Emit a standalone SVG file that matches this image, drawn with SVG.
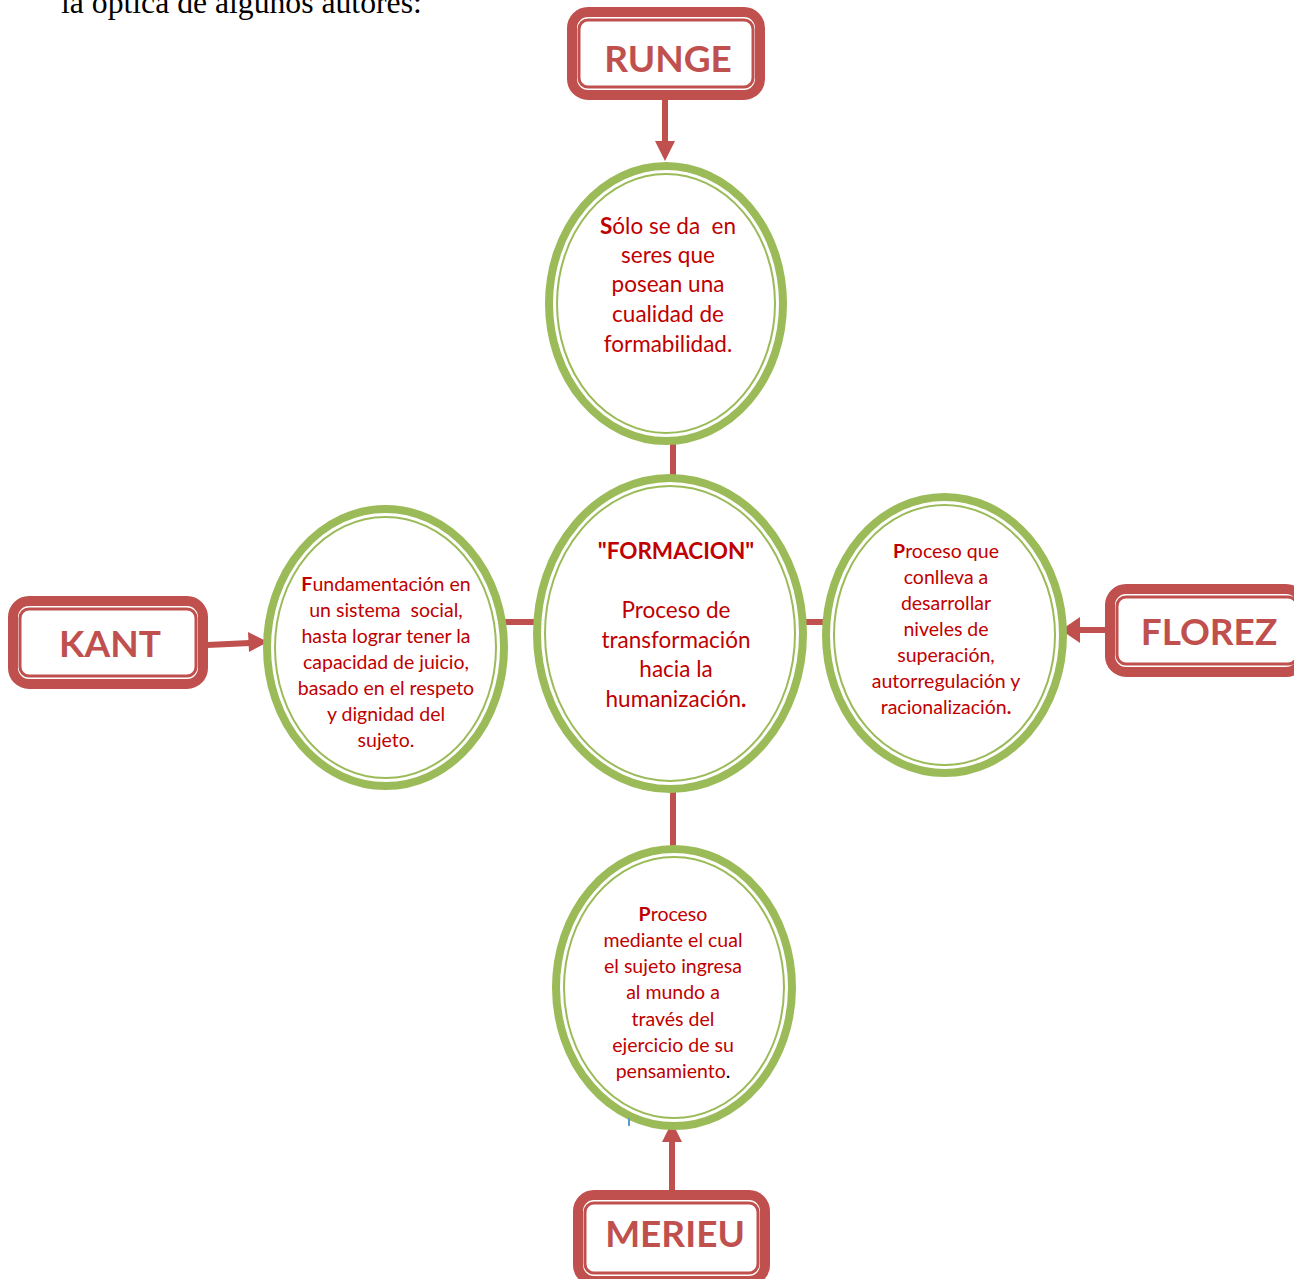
<svg xmlns="http://www.w3.org/2000/svg" width="1294" height="1279" viewBox="0 0 1294 1279">
<defs>
<style>
.box-o{fill:#fff;stroke:#C0504D;stroke-width:10}
.box-i{fill:none;stroke:#C0504D;stroke-width:3}
.ell-o{fill:#fff;stroke:#9BBB59;stroke-width:8}
.ell-i{fill:none;stroke:#9BBB59;stroke-width:2}
.lbl{font-family:Lato,"Liberation Sans",sans-serif;font-weight:bold;font-size:37px;fill:#C0504D;text-anchor:middle}
.big{font-family:Lato,"Liberation Sans",sans-serif;font-size:22.5px;fill:#C00000;text-anchor:middle;white-space:pre}
.sm{font-family:Lato,"Liberation Sans",sans-serif;font-size:19.5px;fill:#C00000;text-anchor:middle;white-space:pre}
.conn{stroke:#C0504D;stroke-width:6;fill:none}
.arr{fill:#C0504D}
.b{font-weight:bold}
</style>
</defs>
<rect width="1294" height="1279" fill="#fff"/>
<text x="61" y="13" font-family="'Liberation Serif',serif" font-size="31.7" fill="#000">la óptica de algunos autores:</text>

<g id="connectors">
<line class="conn" x1="673" y1="440" x2="673" y2="478"/>
<line class="conn" x1="673" y1="788" x2="673" y2="850"/>
<line class="conn" x1="503" y1="622" x2="538" y2="622"/>
<line class="conn" x1="802" y1="622" x2="827" y2="622"/>
<line class="conn" x1="665" y1="100" x2="665" y2="142"/>
<polygon class="arr" points="655,141 675,141 665,161"/>
<line class="conn" x1="207" y1="645" x2="250" y2="643"/>
<polygon class="arr" points="248,632 249,652 268,642"/>
<line class="conn" x1="1112" y1="630" x2="1078" y2="630"/>
<polygon class="arr" points="1080,617 1080,643 1061,630"/>
<line class="conn" x1="672" y1="1192" x2="672" y2="1140"/>
<polygon class="arr" points="662,1142 682,1142 672,1122"/>
</g>

<g id="runge">
<rect class="box-o" x="572" y="12" width="188" height="83" rx="16"/>
<rect class="box-i" x="579" y="20" width="174" height="67" rx="9"/>
<text class="lbl" x="668" y="72">RUNGE</text>
</g>
<g id="kant">
<rect class="box-o" x="13" y="601" width="190" height="83" rx="16"/>
<rect class="box-i" x="20" y="609" width="176" height="67" rx="9"/>
<text class="lbl" x="110" y="657">KANT</text>
</g>
<g id="florez">
<rect class="box-o" x="1110" y="589" width="192" height="83" rx="16"/>
<rect class="box-i" x="1117" y="597" width="180" height="67" rx="9"/>
<text class="lbl" x="1209" y="645">FLOREZ</text>
</g>
<g id="merieu">
<rect class="box-o" x="578" y="1195" width="187" height="86" rx="16"/>
<rect class="box-i" x="585" y="1203" width="173" height="70" rx="9"/>
<text class="lbl" x="675" y="1247">MERIEU</text>
</g>

<g id="runge-def">
<ellipse class="ell-o" cx="666" cy="303.5" rx="117" ry="137.5"/>
<ellipse class="ell-i" cx="666" cy="303.5" rx="109" ry="129.5"/>
<text class="big" x="668" y="234"><tspan class="b">S</tspan>ólo se da  en</text>
<text class="big" x="668" y="263">seres que</text>
<text class="big" x="668" y="292">posean una</text>
<text class="big" x="668" y="322">cualidad de</text>
<text class="big" x="668" y="352">formabilidad.</text>
</g>

<g id="formacion">
<ellipse class="ell-o" cx="670" cy="633.5" rx="133" ry="155.5"/>
<ellipse class="ell-i" cx="670" cy="633.5" rx="125" ry="147.5"/>
<text class="big b" x="676" y="559" font-size="21">"FORMACION"</text>
<text class="big" x="676" y="618">Proceso de</text>
<text class="big" x="676" y="648">transformación</text>
<text class="big" x="676" y="677">hacia la</text>
<text class="big" x="676" y="707">humanización<tspan class="b">.</tspan></text>
</g>

<g id="kant-def">
<ellipse class="ell-o" cx="385.5" cy="647.5" rx="118.5" ry="138.5"/>
<ellipse class="ell-i" cx="385.5" cy="647.5" rx="110.5" ry="130.5"/>
<text class="sm" x="386" y="591"><tspan class="b">F</tspan>undamentación en</text>
<text class="sm" x="386" y="617">un sistema  social,</text>
<text class="sm" x="386" y="643">hasta lograr tener la</text>
<text class="sm" x="386" y="669">capacidad de juicio,</text>
<text class="sm" x="386" y="695">basado en el respeto</text>
<text class="sm" x="386" y="721">y dignidad del</text>
<text class="sm" x="386" y="747">sujeto.</text>
</g>

<g id="florez-def">
<ellipse class="ell-o" cx="944.5" cy="635" rx="118.5" ry="138"/>
<ellipse class="ell-i" cx="944.5" cy="635" rx="110.5" ry="130"/>
<text class="sm" x="946" y="558"><tspan class="b">P</tspan>roceso que</text>
<text class="sm" x="946" y="584">conlleva a</text>
<text class="sm" x="946" y="610">desarrollar</text>
<text class="sm" x="946" y="636">niveles de</text>
<text class="sm" x="946" y="662">superación,</text>
<text class="sm" x="946" y="688">autorregulación y</text>
<text class="sm" x="946" y="714">racionalización<tspan class="b">.</tspan></text>
</g>

<g id="merieu-def">
<ellipse class="ell-o" cx="674" cy="987.5" rx="118" ry="138.5"/>
<ellipse class="ell-i" cx="674" cy="987.5" rx="110" ry="130.5"/>
<text class="sm" x="673" y="921"><tspan class="b">P</tspan>roceso</text>
<text class="sm" x="673" y="947">mediante el cual</text>
<text class="sm" x="673" y="973">el sujeto ingresa</text>
<text class="sm" x="673" y="999">al mundo a</text>
<text class="sm" x="673" y="1026">través del</text>
<text class="sm" x="673" y="1052">ejercicio de su</text>
<text class="sm" x="673" y="1078">pensamiento<tspan fill="#000">.</tspan></text>
</g>
<line x1="629" y1="1118" x2="629" y2="1126" stroke="#5B9BD5" stroke-width="2"/>
</svg>
